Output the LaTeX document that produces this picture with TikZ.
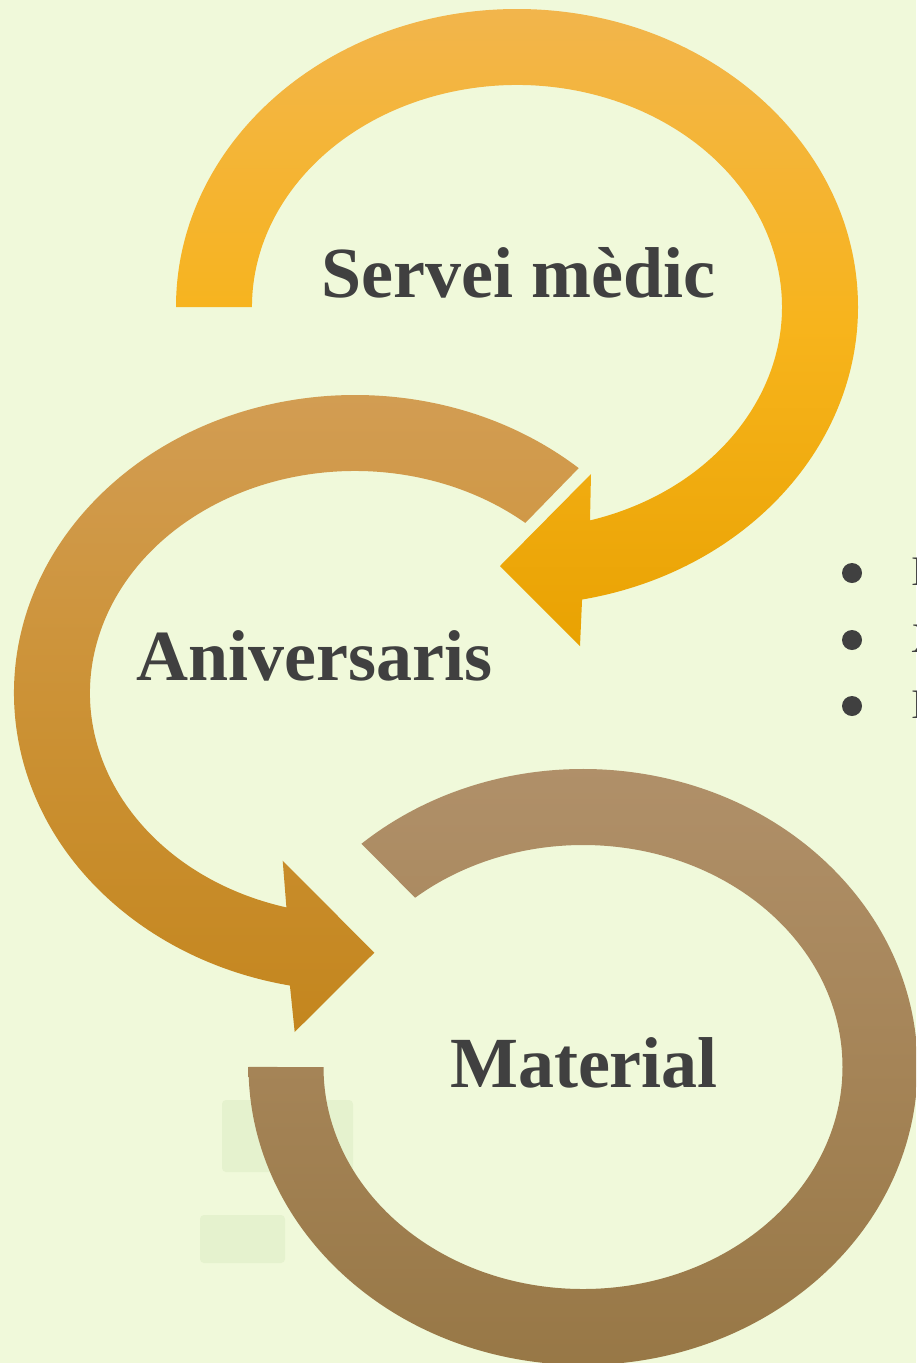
\documentclass[tikz,border=0pt]{standalone}
\usepackage{fontspec}
\setmainfont{Liberation Serif}
\definecolor{bg}{RGB}{240,249,218}
\definecolor{txt}{RGB}{64,64,64}
\definecolor{ghost}{RGB}{229,242,206}
\definecolor{aTop}{RGB}{242,181,76}
\definecolor{aMid}{RGB}{247,180,28}
\definecolor{aBot}{RGB}{233,162,2}
\definecolor{bTop}{RGB}{211,158,86}
\definecolor{bMid}{RGB}{204,146,54}
\definecolor{bBot}{RGB}{196,134,30}
\definecolor{cTop}{RGB}{177,145,107}
\definecolor{cMid}{RGB}{165,132,87}
\definecolor{cBot}{RGB}{150,118,68}
\tikzset{
  lbl/.style={font=\fontsize{72}{86}\selectfont\bfseries, text=txt, inner sep=0pt, anchor=base},
  bul/.style={circle, fill=txt, minimum size=20pt, inner sep=0pt},
  bultxt/.style={font=\fontsize{42}{50}\selectfont, text=txt, inner sep=0pt, anchor=base west},
  ghostbox/.style={fill=ghost, rounded corners=4pt}
}
\begin{document}
\begin{tikzpicture}[x=1pt,y=1pt]
\useasboundingbox (0,0) rectangle (916,-1363);
\clip (0,0) rectangle (916,-1363);
\fill[bg] (0,0) rectangle (916,-1363);
% faint placeholders
\fill[ghostbox] (222,-1100) rectangle (353,-1172);
\fill[ghostbox] (200,-1215) rectangle (285,-1263);
% arc 1
\path[top color=aTop, bottom color=aBot, middle color=aMid]
  (176,-307) arc[start angle=180, end angle=-79, x radius=341, y radius=298]
  -- (580,-646) -- (500,-566) -- (591,-474) -- (590,-520.4)
  arc[start angle=-74, end angle=180, x radius=265, y radius=222] -- cycle;
% arc 2
\path[top color=bTop, bottom color=bBot, middle color=bMid]
  (578.7,-468.1) arc[start angle=49, end angle=259, x radius=341, y radius=298]
  -- (294.7,-1032) -- (374.3,-952.7) -- (282.7,-860.7) -- (286.4,-907.4)
  arc[start angle=255, end angle=50, x radius=265, y radius=222] -- cycle;
% arc 3
\path[top color=cTop, bottom color=cBot, middle color=cMid]
  (361.4,-843.8) arc[start angle=131.5, end angle=-180, x radius=334.5, y radius=298]
  -- (323.5,-1067)
  arc[start angle=-180, end angle=130.3, x radius=259.5, y radius=222] -- cycle;
% labels
\node[lbl] (t1) at (518.5,-297) {Servei mèdic};
\node[lbl] (t2) at (314.5,-680) {Aniversaris};
\node[lbl] (t3) at (584,-1087) {Material};
% bullets
\node[bul] (b1) at (852,-573) {};
\node[bul] (b2) at (852,-640) {};
\node[bul] (b3) at (852,-706) {};
\node[bultxt] (l1) at (911,-585) {I};
\node[bultxt] (l2) at (911,-652) {X};
\node[bultxt] (l3) at (911,-718) {I};
\end{tikzpicture}
\end{document}
